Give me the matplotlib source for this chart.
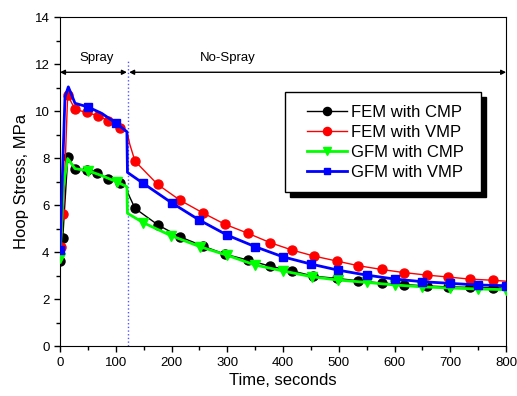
import matplotlib
matplotlib.use("Agg")
import matplotlib.pyplot as plt
from matplotlib.patches import Rectangle
from matplotlib.ticker import MultipleLocator

plt.rcParams["font.family"] = ["Liberation Sans", "DejaVu Sans"]

# FEM with CMP (black circles)
fem_cmp_t = [0, 5, 14, 27, 48, 67, 87, 108, 120, 122, 134.5, 176, 215, 256, 296, 337,
             377, 416, 454, 496, 535, 577, 616, 658, 696, 735, 777, 800]
fem_cmp_v = [3.6, 4.6, 8.05, 7.53, 7.49, 7.35, 7.13, 6.95, 6.78, 6.5, 5.86, 5.15, 4.65,
             4.26, 3.91, 3.66, 3.40, 3.2, 2.98, 2.88, 2.78, 2.68, 2.62, 2.56, 2.52, 2.5,
             2.48, 2.47]
fem_cmp_marks = [0, 1, 2, 3, 4, 5, 6, 7] + list(range(10, 27))

# FEM with VMP (red circles)
fem_vmp_t = [1, 6, 13.8, 27, 48, 67.6, 87, 107.6, 120, 121, 125, 134.5, 175, 215, 256,
             296, 337, 377, 415.6, 455.6, 496, 535, 577, 616, 658, 696, 735, 777, 800]
fem_vmp_v = [4.2, 5.6, 10.68, 10.07, 9.94, 9.8, 9.59, 9.26, 9.12, 9.05, 8.6, 7.87, 6.88,
             6.21, 5.67, 5.18, 4.8, 4.4, 4.09, 3.83, 3.62, 3.42, 3.26, 3.13, 3.02, 2.94,
             2.85, 2.8, 2.76]
fem_vmp_marks = [0, 1, 2, 3, 4, 5, 6, 7] + list(range(11, 28))

# GFM with CMP (green triangles)
gfm_cmp_t = [0, 6, 13.8, 27, 51, 75, 101.6, 120, 121, 149.5, 199, 251, 299, 350, 399.5,
             451.5, 499, 550, 601, 650, 700, 750, 800]
gfm_cmp_v = [3.73, 6.8, 7.98, 7.55, 7.46, 7.25, 6.99, 6.78, 5.65, 5.25, 4.7, 4.23, 3.87,
             3.45, 3.2, 2.95, 2.81, 2.71, 2.6, 2.52, 2.47, 2.43, 2.4]
gfm_cmp_marks = [0, 4, 6] + list(range(9, 23))

# GFM with VMP (blue squares)
gfm_vmp_t = [0, 9, 15, 27, 49.6, 75, 99.8, 120, 121, 149.5, 200, 250, 300, 350, 399.5,
             450, 499, 550, 601, 650, 699.5, 750, 800]
gfm_vmp_v = [4.08, 10.6, 11.03, 10.33, 10.18, 9.9, 9.5, 9.12, 7.39, 6.92, 6.1, 5.36,
             4.72, 4.23, 3.8, 3.49, 3.23, 3.02, 2.85, 2.74, 2.67, 2.6, 2.57]
gfm_vmp_marks = [0, 4, 6] + list(range(9, 23))

spray_end = 122

fig = plt.figure(figsize=(5.17, 3.96), dpi=100)
ax = fig.add_axes([0.116, 0.126, 0.863, 0.831])

ax.plot(fem_cmp_t, fem_cmp_v, color="black", lw=1.0, marker="o", ms=6.5,
        markevery=fem_cmp_marks, label="FEM with CMP", zorder=3)
ax.plot(fem_vmp_t, fem_vmp_v, color="#ff0000", lw=1.0, marker="o", ms=6.5,
        markevery=fem_vmp_marks, label="FEM with VMP", zorder=3)
ax.plot(gfm_cmp_t, gfm_cmp_v, color="#00ff00", lw=2.0, marker="v", ms=6.5,
        markevery=gfm_cmp_marks, label="GFM with CMP", zorder=4)
ax.plot(gfm_vmp_t, gfm_vmp_v, color="#0000ff", lw=2.0, marker="s", ms=5.5,
        markevery=gfm_vmp_marks, label="GFM with VMP", zorder=4)

# spray / no-spray markers
ax.plot([spray_end, spray_end], [0, 12.2], color="#5555ff", lw=1.0, ls=":", zorder=2)
arrow = dict(arrowstyle="<|-|>", color="black", lw=1.0, mutation_scale=7,
             shrinkA=0, shrinkB=0)
ax.annotate("", xy=(0, 11.65), xytext=(120, 11.65), arrowprops=arrow)
ax.annotate("", xy=(124, 11.65), xytext=(800, 11.65), arrowprops=arrow)
ax.text(66, 12.0, "Spray", ha="center", va="bottom", fontsize=9.5)
ax.text(300, 12.0, "No-Spray", ha="center", va="bottom", fontsize=9.5)

ax.set_xlim(0, 800)
ax.set_ylim(0, 14)
ax.xaxis.set_major_locator(MultipleLocator(100))
ax.xaxis.set_minor_locator(MultipleLocator(50))
ax.yaxis.set_major_locator(MultipleLocator(2))
ax.yaxis.set_minor_locator(MultipleLocator(1))
ax.tick_params(which="both", direction="out", top=False, right=False, labelsize=9.5)
ax.tick_params(which="major", length=4, width=1)
ax.tick_params(which="minor", length=3, width=1)
ax.set_xlabel("Time, seconds", fontsize=12, labelpad=3)
ax.set_ylabel("Hoop Stress, MPa", fontsize=12, labelpad=4)

# legend box with offset shadow
lx, ly, lw_, lh = 0.5045, 0.468, 0.4395, 0.304
ax.add_patch(Rectangle((lx + 0.0112, ly - 0.0152), lw_, lh, transform=ax.transAxes,
                       facecolor="black", edgecolor="black", zorder=5))
ax.add_patch(Rectangle((lx, ly), lw_, lh, transform=ax.transAxes,
                       facecolor="white", edgecolor="black", lw=1.0, zorder=6))
leg = ax.legend(loc="center", bbox_to_anchor=(lx + lw_ / 2 + 0.005, ly + lh / 2),
                frameon=False, fontsize=12, handlelength=2.4, handletextpad=0.25,
                labelspacing=0.3, markerscale=0.9)
leg.set_zorder(7)

fig.savefig("out.png", dpi=100)
